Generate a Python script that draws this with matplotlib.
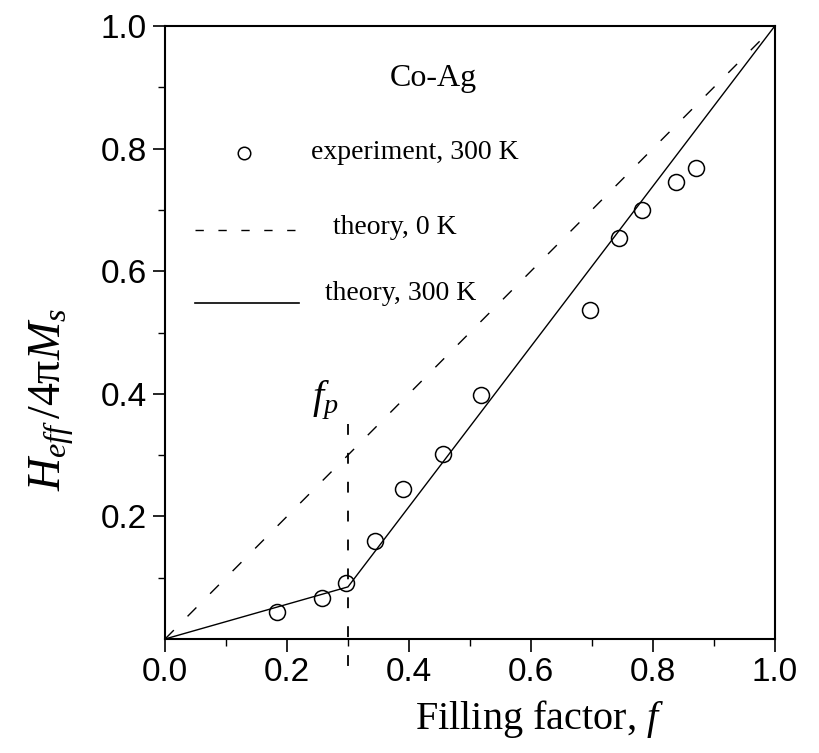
import matplotlib
matplotlib.use('Agg')
import matplotlib.pyplot as plt
import numpy as np

plt.rcParams['font.family'] = ['Liberation Serif', 'DejaVu Serif']
plt.rcParams['mathtext.fontset'] = 'custom'
plt.rcParams['mathtext.rm'] = 'Liberation Serif'
plt.rcParams['mathtext.it'] = 'Liberation Serif:italic'

# measured effective field, Co-Ag granular films at 300 K
f_exp = [0.184, 0.257, 0.297, 0.345, 0.391, 0.456, 0.519, 0.697, 0.744, 0.782, 0.838, 0.870]
h_exp = [0.044, 0.067, 0.092, 0.160, 0.244, 0.302, 0.398, 0.537, 0.655, 0.700, 0.745, 0.768]

# theory at 0 K
f_t0 = [0.0, 1.0]
h_t0 = [0.0, 1.0]

# theory at 300 K (kink at the percolation threshold)
f_t300 = [0.0, 0.30, 1.0]
h_t300 = [0.0, 0.085, 1.0]

f_p = 0.30
f_p_top = 0.35

fig = plt.figure(figsize=(8.19, 7.53), dpi=100)
ax = fig.add_axes([0.2015, 0.1514, 0.7445, 0.814])

ax.plot(f_t0, h_t0, color='k', lw=1.0, dashes=(9, 14))
ax.plot(f_t300, h_t300, color='k', lw=1.0)
ax.plot(f_exp, h_exp, 'o', mfc='none', mec='k', ms=11.5, mew=1.1)
ax.plot([f_p, f_p], [f_p_top, -0.055], color='k', lw=1.3, dashes=(6, 10), clip_on=False)

# hand-made legend
ax.plot([0.13], [0.793], 'o', mfc='none', mec='k', ms=9, mew=1.1)
ax.text(0.239, 0.793, 'experiment, 300 K', fontsize=20, va='center', ha='left')
ax.plot([0.049, 0.22], [0.667, 0.667], color='k', lw=1.0, dashes=(6, 10.5))
ax.text(0.276, 0.672, 'theory, 0 K', fontsize=20, va='center', ha='left')
ax.plot([0.049, 0.22], [0.548, 0.548], color='k', lw=1.2)
ax.text(0.263, 0.564, 'theory, 300 K', fontsize=20, va='center', ha='left')

ax.text(0.44, 0.915, 'Co-Ag', fontsize=23, va='center', ha='center')
ax.text(0.263, 0.39, r'$f_p$', fontsize=29, va='center', ha='center')

ax.set_xlim(0, 1)
ax.set_ylim(0, 1)
ax.set_xticks(np.arange(0, 1.01, 0.2))
ax.set_xticks(np.arange(0.1, 1.0, 0.2), minor=True)
ax.set_yticks(np.arange(0.2, 1.01, 0.2))
ax.set_yticks(np.arange(0.1, 1.0, 0.2), minor=True)
ax.tick_params(which='major', direction='out', length=9, width=1.2, labelsize=24, pad=4)
ax.tick_params(which='minor', direction='out', length=5, width=1.0)
for lab in ax.get_xticklabels() + ax.get_yticklabels():
    lab.set_fontfamily('Liberation Sans')
for s in ax.spines.values():
    s.set_linewidth(1.5)

ax.text(0.615, -0.13, r'Filling factor, $f$', fontsize=29, ha='center', va='center',
        transform=ax.transAxes)
ax.text(-0.185, 0.39, r'$H_{eff}\,/4\mathrm{\pi}M_s$', fontsize=33, rotation=90,
        ha='center', va='center', transform=ax.transAxes)

fig.savefig('out.png', dpi=100)
